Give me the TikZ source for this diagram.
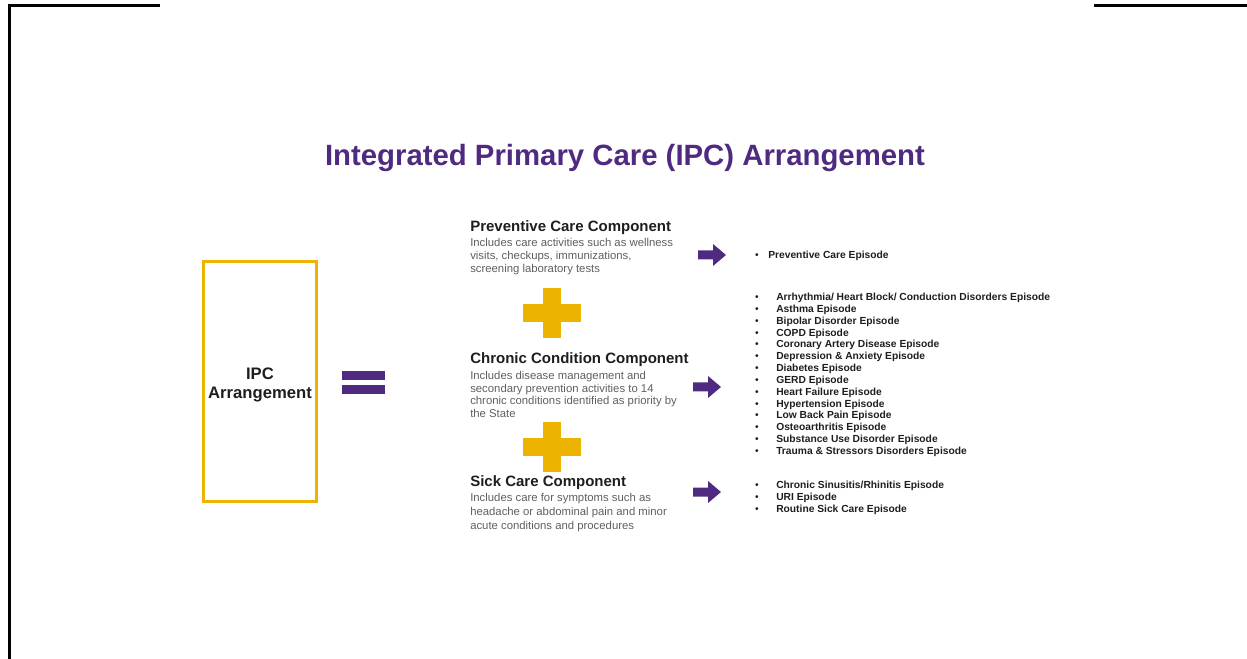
\documentclass[tikz,border=0pt]{standalone}
\usepackage{fontspec}
\setmainfont{Liberation Sans}
\definecolor{ipcpurple}{RGB}{78,42,128}
\definecolor{ipcyellow}{RGB}{236,180,0}
\definecolor{headc}{RGB}{30,30,30}
\definecolor{bodyc}{RGB}{95,95,95}
\tikzset{
  head/.style={anchor=base west, inner sep=0pt, font=\fontsize{11.25}{13}\selectfont\bfseries, text=headc},
  bodyline/.style={anchor=base west, inner sep=0pt, font=\fontsize{8.5}{10}\selectfont, text=bodyc},
  itemline/.style={anchor=base west, inner sep=0pt, font=\fontsize{7.7}{9}\selectfont\bfseries, text=headc},
  bul/.style={anchor=base, inner sep=0pt, font=\fontsize{7.7}{9}\selectfont, text=headc},
  blockarrow/.style={fill=ipcpurple, draw=none},
  plusbar/.style={fill=ipcyellow, draw=none},
}
\begin{document}
\begin{tikzpicture}[x=0.75pt,y=-0.75pt]
\useasboundingbox (0,0) rectangle (1247,659);
% frame fragments
\draw[line width=2.2pt] (9.5,659) -- (9.5,5.5) -- (160,5.5);
\draw[line width=1.6pt] (1094,5.5) -- (1247,5.5);

% title
\node[anchor=base, inner sep=0pt, font=\fontsize{22}{26}\selectfont\bfseries, text=ipcpurple] (title) at (625,165.5) {Integrated Primary Care (IPC) Arrangement};

% IPC box
\node[draw=ipcyellow, line width=2.6pt, minimum width=84.75pt, minimum height=180pt, inner sep=0pt] (ipc) at (260,381.5) {};
\node[align=center, inner sep=0pt, font=\fontsize{12.5}{14.5}\selectfont\bfseries, text=headc] (ipctext) at (260,385) {IPC\\Arrangement};

% equals
\fill[ipcpurple] (342,371) rectangle (385,380);
\fill[ipcpurple] (342,385) rectangle (385,394);

% plus signs
\foreach \cy in {313,447}{
  \fill[plusbar] (543,\cy-25) rectangle (561,\cy+25);
  \fill[plusbar] (523,\cy-9) rectangle (581,\cy+9);
}

% component headings and descriptions
\node[head] (h1) at (470,232) {Preventive Care Component};
\node[bodyline] (b11) at (470,247) {Includes care activities such as wellness};
\node[bodyline] (b12) at (470,260) {visits, checkups, immunizations,};
\node[bodyline] (b13) at (470,273) {screening laboratory tests};

\node[head] (h2) at (470,364) {Chronic Condition Component};
\node[bodyline] (b21) at (470,380) {Includes disease management and};
\node[bodyline] (b22) at (470,392.5) {secondary prevention activities to 14};
\node[bodyline] (b23) at (470,405) {chronic conditions identified as priority by};
\node[bodyline] (b24) at (470,418) {the State};

\node[head] (h3) at (470,486) {Sick Care Component};
\node[bodyline] (b31) at (470,502) {Includes care for symptoms such as};
\node[bodyline] (b32) at (470,515) {headache or abdominal pain and minor};
\node[bodyline] (b33) at (470,529) {acute conditions and procedures};

% block arrows
\foreach \ax/\ay in {698/255, 693/387, 693/492}{
  \fill[blockarrow] (\ax,\ay-4.5) -- (\ax+15,\ay-4.5) -- (\ax+15,\ay-11) -- (\ax+28,\ay) -- (\ax+15,\ay+11) -- (\ax+15,\ay+4.5) -- (\ax,\ay+4.5) -- cycle;
}

% preventive list
\node[bul] (pb1) at (757,258.5) {•};
\node[itemline] (pi1) at (768,258.5) {Preventive Care Episode};

% chronic list
\foreach [count=\i from 0] \t in {Arrhythmia/ Heart Block/ Conduction Disorders Episode, Asthma Episode, Bipolar Disorder Episode, COPD Episode, Coronary Artery Disease Episode, Depression \& Anxiety Episode, Diabetes Episode, GERD Episode, Heart Failure Episode, Hypertension Episode, Low Back Pain Episode, Osteoarthritis Episode, Substance Use Disorder Episode, Trauma \& Stressors Disorders Episode}{
  \node[bul] (cb\i) at (757,300.5+11.85*\i) {•};
  \node[itemline] (ci\i) at (776,300.5+11.85*\i) {\t};
}

% sick list
\foreach [count=\i from 0] \t in {Chronic Sinusitis/Rhinitis Episode, URI Episode, Routine Sick Care Episode}{
  \node[bul] (sb\i) at (757,488.5+11.9*\i) {•};
  \node[itemline] (si\i) at (776,488.5+11.9*\i) {\t};
}
\end{tikzpicture}
\end{document}
